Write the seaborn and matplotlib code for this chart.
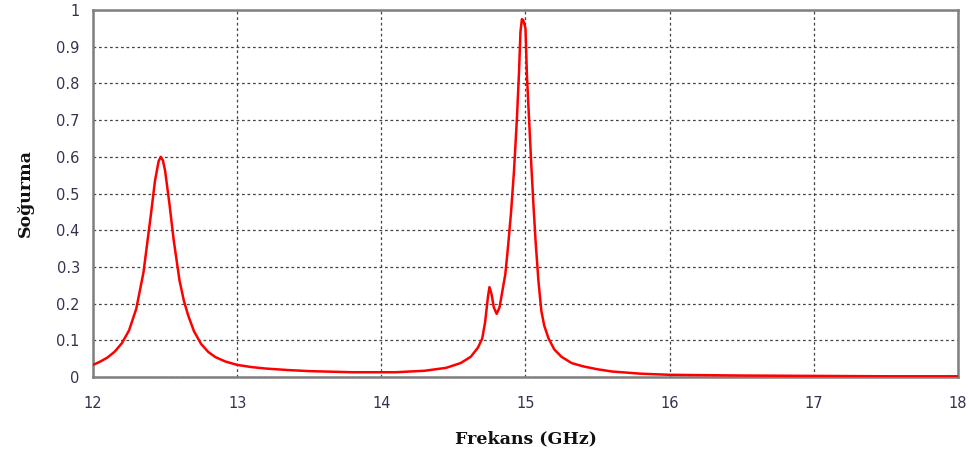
import matplotlib
matplotlib.use("Agg")
import matplotlib.pyplot as plt
import seaborn as sns
import pandas as pd

freq = [12.00, 12.05, 12.10, 12.15, 12.20, 12.25, 12.30, 12.35, 12.40, 12.43,
        12.455, 12.47, 12.485, 12.50, 12.53, 12.56, 12.60, 12.63, 12.66, 12.70,
        12.75, 12.80, 12.85, 12.92, 13.00, 13.10, 13.20, 13.35, 13.50, 13.80,
        14.10, 14.30, 14.45, 14.55, 14.62, 14.67, 14.70, 14.72, 14.74, 14.75,
        14.765, 14.78, 14.80, 14.82, 14.84, 14.86, 14.88, 14.90, 14.92, 14.94,
        14.955, 14.965, 14.975, 14.985, 15.00, 15.01, 15.025, 15.04, 15.055, 15.07,
        15.09, 15.11, 15.13, 15.16, 15.20, 15.25, 15.32, 15.40, 15.50, 15.60,
        15.80, 16.00, 16.50, 17.00, 17.50, 18.00]
absorption = [0.033, 0.042, 0.053, 0.069, 0.092, 0.127, 0.186, 0.285, 0.438, 0.535,
              0.588, 0.600, 0.590, 0.562, 0.472, 0.372, 0.263, 0.208, 0.168, 0.125,
              0.090, 0.068, 0.054, 0.042, 0.033, 0.027, 0.023, 0.019, 0.016, 0.013,
              0.013, 0.017, 0.025, 0.038, 0.055, 0.080, 0.105, 0.150, 0.220, 0.245,
              0.225, 0.190, 0.172, 0.190, 0.235, 0.280, 0.360, 0.450, 0.560, 0.700,
              0.830, 0.940, 0.975, 0.972, 0.950, 0.820, 0.700, 0.580, 0.470, 0.370,
              0.260, 0.180, 0.140, 0.105, 0.075, 0.055, 0.038, 0.029, 0.021, 0.015,
              0.009, 0.006, 0.004, 0.003, 0.002, 0.002]

x_ticks = [12, 13, 14, 15, 16, 17, 18]
y_ticks = [0, 0.1, 0.2, 0.3, 0.4, 0.5, 0.6, 0.7, 0.8, 0.9, 1.0]
y_tick_labels = ["0", "0.1", "0.2", "0.3", "0.4", "0.5", "0.6", "0.7", "0.8", "0.9", "1"]

sns.set_style("white")
plt.rcParams['font.family'] = ['DejaVu Sans']

df = pd.DataFrame({"Frekans": freq, "Sogurma": absorption})

fig = plt.figure(figsize=(9.7, 4.61), dpi=100)
ax = fig.add_axes([0.0959, 0.1822, 0.8917, 0.7961])

sns.lineplot(data=df, x="Frekans", y="Sogurma", ax=ax, color="#ff0000", linewidth=1.8, zorder=3)

ax.set_xlim(12, 18)
ax.set_ylim(0, 1)
ax.set_xticks(x_ticks)
ax.set_xticklabels([str(t) for t in x_ticks])
ax.set_yticks(y_ticks)
ax.set_yticklabels(y_tick_labels)

ax.grid(True, color="#444444", linestyle=(0, (2.2, 2.2)), linewidth=0.9)
for s in ax.spines.values():
    s.set_visible(True)
    s.set_color("#7f7f7f")
    s.set_linewidth(1.8)

ax.tick_params(axis="both", direction="inout", length=7, width=1, color="#555555",
               labelsize=10.5, labelcolor="#333350")
ax.tick_params(axis="x", pad=10)
ax.tick_params(axis="y", pad=6)

ax.set_xlabel("Frekans (GHz)", fontfamily="DejaVu Serif", fontweight="bold",
              fontsize=12.5, color="#111111", labelpad=14)
ax.set_ylabel("Soğurma", fontfamily="DejaVu Serif", fontweight="bold",
              fontsize=12.5, color="#111111", labelpad=16)

fig.savefig("out.png", dpi=100)
